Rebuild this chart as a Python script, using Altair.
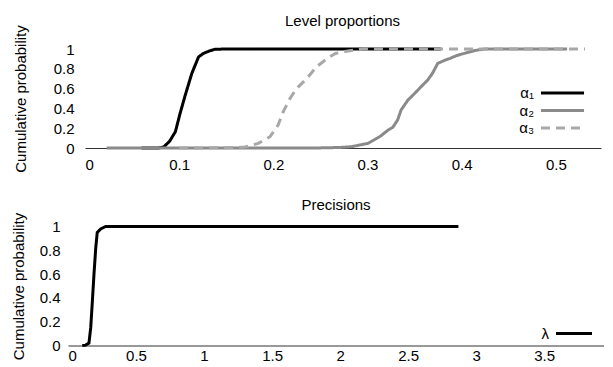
import altair as alt
import pandas as pd

# ---- data ----
series_names = ["α₁", "α₂", "α₃"]

a1_x = [0.06, 0.078, 0.0836, 0.09, 0.096, 0.101, 0.1065, 0.1135, 0.1206, 0.126, 0.132, 0.138, 0.15, 0.378]
a1_y = [0.0, 0.0, 0.01, 0.07, 0.165, 0.35, 0.535, 0.755, 0.92, 0.957, 0.98, 0.997, 1.0, 1.0]

a2_x = [0.023, 0.1, 0.2, 0.25, 0.27, 0.283, 0.3005, 0.313, 0.3217, 0.327, 0.332, 0.3357, 0.343,
        0.35, 0.357, 0.364, 0.369, 0.3746, 0.383, 0.388, 0.395, 0.403, 0.41, 0.417, 0.425, 0.512]
a2_y = [0.0, 0.0, 0.0, 0.001, 0.005, 0.013, 0.047, 0.114, 0.18, 0.21, 0.283, 0.384, 0.485,
        0.55, 0.62, 0.687, 0.754, 0.855, 0.89, 0.906, 0.935, 0.956, 0.975, 0.99, 1.0, 1.0]

a3_x = [0.1, 0.15, 0.17, 0.184, 0.1965, 0.205, 0.2106, 0.2177, 0.2247, 0.2353, 0.2459, 0.258,
        0.266, 0.276, 0.286, 0.295, 0.531]
a3_y = [0.0, 0.002, 0.01, 0.047, 0.114, 0.23, 0.367, 0.50, 0.60, 0.70, 0.82, 0.91,
        0.955, 0.975, 0.99, 1.0, 1.0]

lam_name = ["λ"]
lam_x = [0.105, 0.13, 0.154, 0.167, 0.179, 0.191, 0.204, 0.215, 0.24, 0.277, 2.87]
lam_y = [0.0, 0.003, 0.02, 0.15, 0.37, 0.60, 0.82, 0.95, 0.98, 1.0, 1.0]

top_x_ticks = [0, 0.1, 0.2, 0.3, 0.4, 0.5]
bot_x_ticks = [0, 0.5, 1, 1.5, 2, 2.5, 3, 3.5]
y_ticks = [0, 0.2, 0.4, 0.6, 0.8, 1]

# ---- tables ----
rows = []
for name, xs, ys in zip(series_names, [a1_x, a2_x, a3_x], [a1_y, a2_y, a3_y]):
    for i, (xv, yv) in enumerate(zip(xs, ys)):
        rows.append({"series": name, "x": xv, "y": yv, "order": i})
top_df = pd.DataFrame(rows)

bot_df = pd.DataFrame({"param": lam_name * len(lam_x), "x": lam_x, "y": lam_y,
                       "order": list(range(len(lam_x)))})

FONT = "Liberation Sans"
FS = 15

# wide horizontal stroke symbol (keeps legend rows compact)
top_legend = alt.Legend(
    title=None, orient="none", legendX=487, legendY=36.5,
    symbolType="M-4,0H4", symbolSize=116, symbolStrokeWidth=3,
    rowPadding=1.5, labelAlign="right", labelOffset={"expr": "-36"},
    labelFont=FONT, labelFontSize=FS, labelColor="black", padding=0,
)

top = alt.Chart(top_df).mark_line(strokeWidth=3).encode(
    x=alt.X("x:Q", scale=alt.Scale(domain=[0, 0.548], range=[17, 533], nice=False, zero=False),
            axis=alt.Axis(values=top_x_ticks, format="~g", title=None, ticks=False, tickSize=0,
                          grid=False, domainColor="#333", domainWidth=1, labelPadding=9,
                          labelFont=FONT, labelFontSize=FS, labelColor="black")),
    y=alt.Y("y:Q", scale=alt.Scale(domain=[0, 1], nice=False),
            axis=alt.Axis(values=y_ticks, format="~g", title="Cumulative probability",
                          grid=False, domain=False, ticks=False, tickSize=0, offset=-17,
                          labelPadding=11, titlePadding=25, labelFont=FONT, labelFontSize=FS,
                          labelColor="black", titleFont=FONT, titleFontSize=FS,
                          titleFontWeight="normal", titleColor="black")),
    color=alt.Color("series:N", scale=alt.Scale(domain=series_names,
                                                range=["#000000", "#8a8a8a", "#a8a8a8"]),
                    legend=top_legend),
    strokeDash=alt.StrokeDash("series:N", scale=alt.Scale(domain=series_names,
                                                          range=[[1, 0], [1, 0], [9, 6]]),
                              legend=top_legend),
    order="order:Q",
).properties(
    width=533, height=99,
    title=alt.TitleParams("Level proportions", font=FONT, fontSize=FS, fontWeight="normal",
                          color="black", frame="group", anchor="middle", offset=-4, dx=8),
)

bot_legend = alt.Legend(
    title=None, orient="none", legendX=498.5, legendY=99.5,
    symbolType="M-4,0H4", symbolSize=81, symbolStrokeWidth=3,
    labelAlign="right", labelOffset={"expr": "-32.5"}, labelFont=FONT,
    labelFontSize=FS, labelColor="black", padding=0,
)

bottom = alt.Chart(bot_df).mark_line(strokeWidth=3).encode(
    x=alt.X("x:Q", scale=alt.Scale(domain=[0, 3.94], nice=False, zero=False),
            axis=alt.Axis(values=bot_x_ticks, format="~g", title=None, ticks=False, tickSize=0,
                          grid=False, domainColor="#333", domainWidth=1, labelPadding=3,
                          labelFont=FONT, labelFontSize=FS, labelColor="black")),
    y=alt.Y("y:Q", scale=alt.Scale(domain=[0, 1], nice=False),
            axis=alt.Axis(values=y_ticks, format="~g", title="Cumulative probability",
                          grid=False, domain=False, ticks=False, tickSize=0, labelPadding=8,
                          titlePadding=13, labelFont=FONT, labelFontSize=FS, labelColor="black",
                          titleFont=FONT, titleFontSize=FS, titleFontWeight="normal",
                          titleColor="black")),
    color=alt.Color("param:N", scale=alt.Scale(domain=lam_name, range=["#000000"]),
                    legend=bot_legend),
    order="order:Q",
).properties(
    width=536, height=119,
    title=alt.TitleParams("Precisions", font=FONT, fontSize=FS, fontWeight="normal",
                          color="black", frame="group", anchor="middle", offset=-0.5),
)

chart = alt.vconcat(top, bottom, spacing=24.5).resolve_scale(
    color="independent", strokeDash="independent", x="independent", y="independent"
).resolve_legend(color="independent", strokeDash="independent").configure_view(
    stroke=None
).properties(
    padding={"left": 3, "top": 5, "right": 0, "bottom": 0}, background="white"
)

chart.save("out.html", embed_options={"renderer": "svg", "actions": False})
